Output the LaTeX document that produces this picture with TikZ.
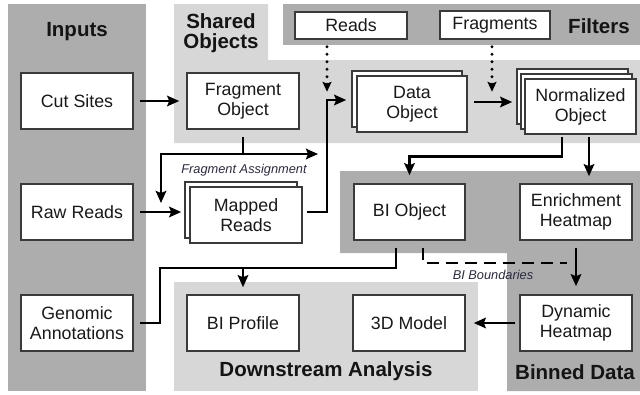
\documentclass[tikz,border=0pt]{standalone}
\usepackage{fontspec}
\setmainfont{Liberation Sans}
\usetikzlibrary{arrows.meta}
\definecolor{paneldark}{HTML}{ADADAD}
\definecolor{panellight}{HTML}{D7D7D7}
\definecolor{boxline}{HTML}{3A3A3A}
\definecolor{notetext}{HTML}{2A2A40}

\begin{document}
\begin{tikzpicture}[x=1pt,y=-1pt,
  darkpanel/.style={fill=paneldark,draw=none},
  lightpanel/.style={fill=panellight,draw=none},
  box/.style={draw=boxline,line width=1.6pt,fill=white,minimum width=112pt,
    minimum height=56pt,inner sep=0pt,align=center,text=black!90,
    font=\fontsize{17.8}{20}\selectfont},
  smallbox/.style={box,minimum height=27pt},
  title/.style={font=\bfseries\fontsize{20.5}{20}\selectfont,align=center,text=black!92},
  note/.style={font=\itshape\fontsize{12.8}{14}\selectfont,text=notetext},
  wire/.style={line width=2.9pt,draw=black},
  link/.style={wire,-{Stealth[length=12pt,width=10.5pt,inset=2pt]}},
  dotlink/.style={line width=3.2pt,line cap=round,dash pattern=on 0pt off 7.5pt,
    -{Stealth[length=10pt,width=9pt,inset=2pt,line cap=butt]}},
  dashwire/.style={wire,dash pattern=on 12pt off 7pt}]

\useasboundingbox (0,0) rectangle (640,394);

% background panels
\fill[darkpanel] (8,4) rectangle (146,391);
\fill[lightpanel] (174,4) -- (268,4) -- (268,60) -- (640,60) -- (640,143) -- (174,143) -- cycle;
\fill[darkpanel] (283,4) rectangle (640,45);
\fill[darkpanel] (340,171) -- (640,171) -- (640,391) -- (507,391) -- (507,253) -- (340,253) -- cycle;
\fill[lightpanel] (174,282) rectangle (478,391);

% panel titles
\node[title] (tinputs) at (77,32) {Inputs};
\node[title] (tshared) at (221,33) {Shared\\Objects};
\node[title] (tfilters) at (599,26) {Filters};
\node[title] (tdown) at (326,371) {Downstream Analysis};
\node[title] (tbinned) at (575,372) {Binned Data};

% inputs
\node[box] (cut) at (77,101) {Cut Sites};
\node[box] (raw) at (77,212) {Raw Reads};
\node[box] (genomic) at (77,323) {Genomic\\Annotations};

% filters
\node[smallbox] (reads) at (351,25.5) {Reads};
\node[smallbox,minimum width=110pt,minimum height=28pt] (fragments) at (495,25) {Fragments};

% shared objects
\node[box] (frag) at (243,101) {Fragment\\Object};
\node[box] (mappedback) at (241,210) {};
\node[box] (mapped) at (246,215) {Mapped\\Reads};
\node[box,minimum width=110pt] (databack) at (407,99) {};
\node[box,minimum width=110pt] (data) at (412,104) {Data\\Object};
\node[box,minimum width=111pt,minimum height=55pt] (normback2) at (572.5,96.5) {};
\node[box,minimum width=111pt,minimum height=55pt] (normback1) at (576.5,101.5) {};
\node[box,minimum width=111pt,minimum height=55pt] (norm) at (580.5,106.5) {Normalized\\Object};

% binned data
\node[box,minimum width=111pt] (bi) at (409.5,212) {BI Object};
\node[box] (enrich) at (576,212) {Enrichment\\Heatmap};
\node[box] (dynamic) at (576,323) {Dynamic\\Heatmap};

% downstream analysis
\node[box] (profile) at (243,323) {BI Profile};
\node[box] (model) at (409,323) {3D Model};

% connectors
\draw[link,shorten <=6pt,shorten >=7pt] (cut.east) -- (cut.east -| frag.west);
\draw[link,shorten <=6pt,shorten >=8pt] (raw.east) -- (raw.east -| mapped.west);

\coordinate (fa) at (243,154);
\coordinate (faleft) at (161,203);
\coordinate (faright) at (318,154);
\draw[wire,shorten <=7pt] (frag.south) -- (fa);
\draw[link] (fa) -| (faleft);
\draw[link] (fa) -- (faright);
\node[note] (fanote) at (244,170) {Fragment Assignment};

\coordinate (mdcorner) at (327,100);
\draw[link,shorten <=4pt,shorten >=5pt] (mapped.east |- raw.east) -| (mdcorner) -- (mdcorner -| databack.west);

\draw[dotlink,shorten <=7pt] ([xshift=-24pt]reads.south) -- ++(0,52);
\draw[dotlink,shorten <=7pt] ([xshift=-3pt]fragments.south) -- ++(0,52);

\draw[link,shorten <=6pt,shorten >=4pt] ([yshift=2pt]data.east) -- ([yshift=2pt]data.east -| normback2.west);

\draw[link,shorten <=2pt,shorten >=8pt] ([xshift=-18.5pt]norm.south) -- ++(0,22) -| (bi.north);
\draw[link,shorten <=2pt,shorten >=7pt] ([xshift=8.5pt]norm.south) -- ([xshift=13pt]enrich.north);

\coordinate (bpcorner) at (160,268);
\draw[wire,shorten <=7pt,shorten >=6pt] ([xshift=-13.5pt]bi.south) |- (bpcorner) |- (genomic.east);
\draw[link,shorten >=7pt] (profile.north |- bpcorner) -- (profile.north);

\coordinate (bdend) at (567,263);
\draw[dashwire,shorten <=7pt] ([xshift=13.5pt]bi.south) |- (bdend);
\node[note] (bdnote) at (493,275) {BI Boundaries};

\draw[link,shorten <=7pt,shorten >=8pt] (enrich.south) -- (dynamic.north);
\draw[link,shorten <=4pt,shorten >=8pt] (dynamic.west) -- (model.east);

\end{tikzpicture}
\end{document}
